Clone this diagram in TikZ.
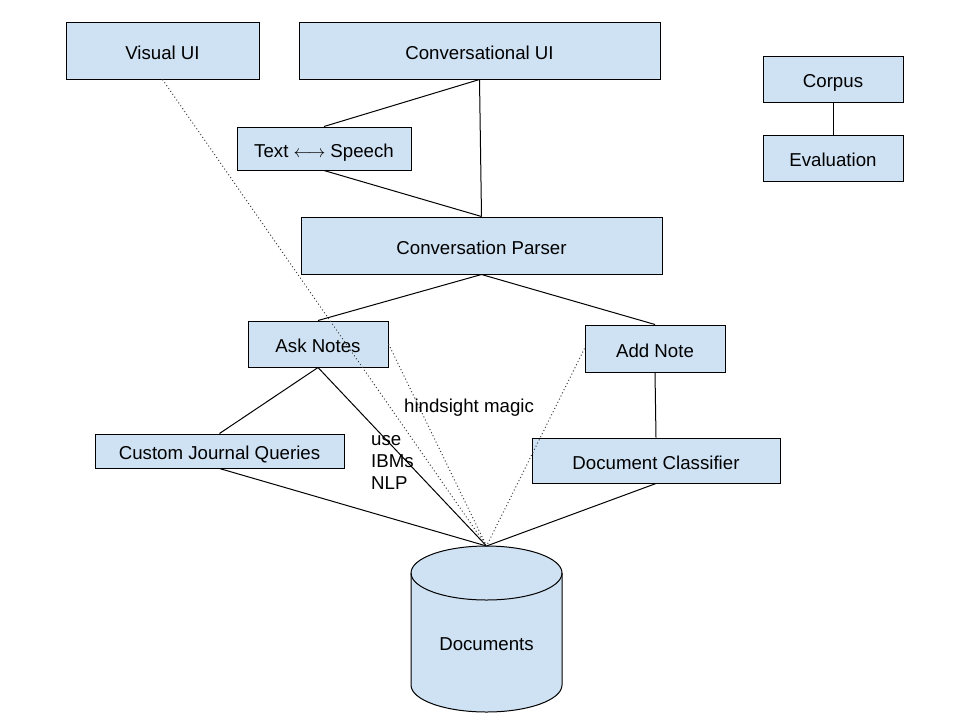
\documentclass[tikz,border=0pt]{standalone}
\usepackage{fontspec}
\setmainfont{Liberation Sans}
\definecolor{boxfill}{HTML}{CFE2F3}
\tikzset{
  box/.style={draw=black, fill=boxfill, line width=1pt, inner sep=0pt, text height=17.4pt, text depth=0pt, font=\fontsize{18.67}{22}\selectfont},
  link/.style={draw=black, line width=1pt},
  dotlink/.style={draw=black!75, line width=1pt, dash pattern=on 1pt off 2.5pt},
  lbl/.style={font=\fontsize{18.67}{22}\selectfont, inner sep=0pt}
}
\begin{document}
\begin{tikzpicture}[x=1pt,y=-1pt]
\useasboundingbox[fill=white] (0,0) rectangle (960,720);
% boxes
\node[box, minimum width=193pt, minimum height=57pt] (vui) at (162.5,50.5) {Visual UI};
\node[box, minimum width=361pt, minimum height=57pt] (cui) at (479.5,50.5) {Conversational UI};
\node[box, minimum width=174pt, minimum height=43pt] (tts) at (324,148.5) {Text $\longleftrightarrow$ Speech};
\node[box, minimum width=361pt, minimum height=57pt] (cp) at (481.5,245.5) {Conversation Parser};
\node[box, minimum width=140pt, minimum height=46pt] (askn) at (318,344) {Ask Notes};
\node[box, minimum width=140pt, minimum height=47pt] (addn) at (655,348.5) {Add Note};
\node[box, minimum width=249pt, minimum height=34pt] (cjq) at (219.5,451) {Custom Journal Queries};
\node[box, minimum width=248pt, minimum height=45pt] (dc) at (656,460.5) {Document Classifier};
\node[box, minimum width=140pt, minimum height=46pt] (corpus) at (833,79) {Corpus};
\node[box, minimum width=140pt, minimum height=46pt] (eval) at (833,158) {Evaluation};
% cylinder
\filldraw[fill=boxfill, draw=black, line width=1pt]
  (411,573) -- (411,685) arc[start angle=180, end angle=0, x radius=75.5, y radius=27]
  -- (562,573) arc[start angle=0, end angle=-180, x radius=75.5, y radius=27] -- cycle;
\draw[line width=1pt] (411,573) arc[start angle=180, end angle=0, x radius=75.5, y radius=27];
\coordinate (dtop) at (486.5,546);
\node[lbl] (docs) at (486.5,644) {Documents};
% connectors
\draw[link] (cui.south) -- (tts.north);
\draw[link] (cui.south) -- (cp.north);
\draw[link] (tts.south) -- (cp.north);
\draw[link] (cp.south) -- (askn.north);
\draw[link] (cp.south) -- (addn.north);
\draw[link] (askn.south) -- (cjq.north);
\draw[link] (askn.south) -- (dtop);
\draw[link] (cjq.south) -- (dtop);
\draw[link] (addn.south) -- (dc.north);
\draw[link] (dc.south) -- (dtop);
\draw[link] (corpus.south) -- (eval.north);
% dotted
\draw[dotlink] (vui.south) -- (dtop);
\draw[dotlink] (askn.east) -- (dtop);
\draw[dotlink] (addn.west) -- (dtop);
% labels
\node[lbl, anchor=west] (hm) at (404,408) {hindsight magic};
\node[lbl, anchor=west, align=left] (nlp) at (371,462) {use\\IBMs\\NLP};
\end{tikzpicture}
\end{document}
